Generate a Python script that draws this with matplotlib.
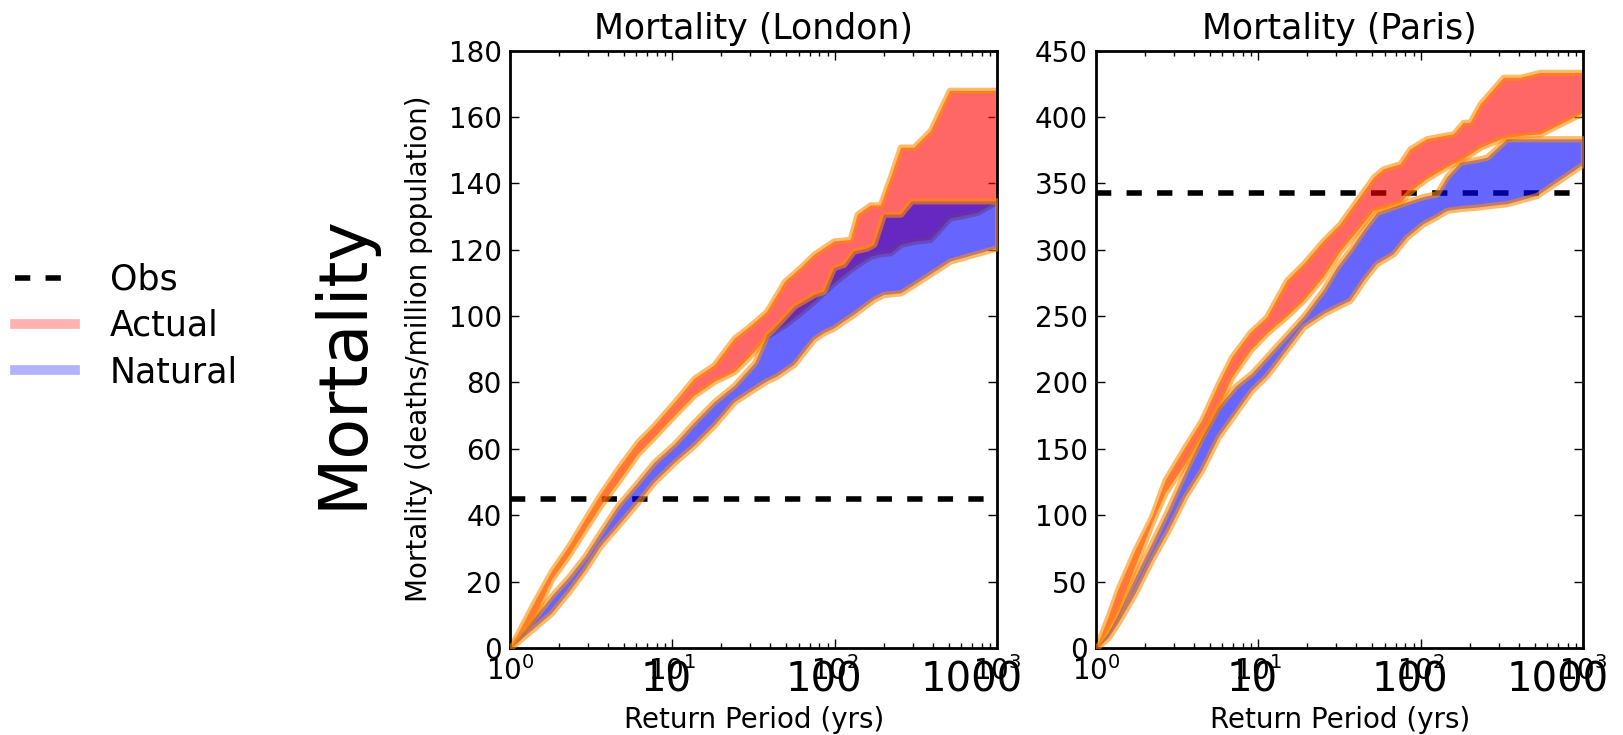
import numpy as np
import matplotlib
matplotlib.use("Agg")
import matplotlib.pyplot as plt
from matplotlib.lines import Line2D

plt.rcParams['font.family'] = ['DejaVu Sans']
plt.rcParams['font.size'] = 20
plt.rcParams['lines.scale_dashes'] = False

# London - return period (yrs) and mortality bands
lon_act_rp = [1, 1.4, 1.8, 2.3, 2.9, 3.6, 4.6, 6.1, 7.7, 10.3, 13.6, 18, 24, 29, 33, 38, 49, 61,
              74, 98, 124, 137, 165, 190, 219, 253, 305, 386, 506, 745, 1000]
lon_act_hi = [0, 13.6, 23.2, 30.8, 38.9, 46.4, 54.0, 62.1, 67.1, 74.2, 81.3, 85.3, 93.4, 96.5, 98.8,
              101.5, 110.5, 114.6, 118.6, 122.6, 123.1, 130.7, 133.5, 133.5, 141.8, 150.9, 150.9,
              155.9, 168, 168, 168]
lon_act_lo = [0, 9, 20.7, 28, 35.8, 42.9, 50.0, 58.5, 63.6, 70.2, 76.2, 80.3, 83.3, 87.3, 90.3, 94,
              97.4, 101, 104.5, 110, 114, 115.5, 118, 118.8, 119.1, 121.6, 122.5, 123.1, 129.5,
              131.2, 134.7]

lon_nat_rp = [1, 1.4, 1.8, 2.3, 2.9, 3.6, 4.6, 6.1, 7.7, 10.3, 13.6, 18, 24, 32, 38, 44, 56, 74,
              85, 98, 113, 130, 157, 173, 199, 253, 295, 512, 1000]
lon_nat_hi = [0, 9, 15.7, 21.5, 27.8, 35, 42.9, 50, 56, 61.6, 68.1, 74.2, 79.2, 86, 94.4, 97.4,
              103, 106.5, 107.5, 114.6, 115.6, 119.6, 120.5, 121.6, 130.7, 130.7, 134.7, 134.7,
              134.7]
lon_nat_lo = [0, 6, 10.6, 17, 23.7, 30.8, 36.8, 43.9, 50.0, 56.0, 61.1, 67.1, 74.2, 78.2, 80.5, 82,
              85.5, 93, 95, 96.4, 98.5, 100.5, 103.5, 105, 106.5, 107, 109, 116.6, 120.6]

# Paris
par_act_rp = [1, 1.19, 1.36, 1.74, 2.2, 2.66, 3.53, 4.47, 5.66, 6.84, 8.9, 11.2, 14.9, 18.9, 25.1,
              31.7, 40.2, 50.9, 58.6, 74.3, 85.5, 108, 131, 158, 182, 200, 231, 321, 406, 540, 1000]
par_act_hi = [0, 24, 44, 74, 99, 126.5, 151.6, 171.7, 199.2, 219.3, 238, 249.3, 276.9, 289.5, 307,
              319.5, 337, 354.6, 360.9, 364.7, 375.9, 383.5, 385.5, 387.2, 395.9, 395.9, 409.8,
              429.8, 429.8, 433.5, 433.5]
par_act_lo = [0, 14, 28, 62, 94, 117, 139, 160, 181.7, 204, 224.3, 237, 250, 262, 280, 299, 314,
              329.6, 331.5, 335.5, 344, 353.5, 359.6, 365, 368.5, 372, 377.1, 384.2, 386, 387.2,
              403.5]

par_nat_rp = [1, 1.19, 1.36, 1.74, 2.2, 2.79, 3.53, 4.47, 5.66, 7.17, 9.08, 11.2, 14.9, 18.9, 25.1,
              30.3, 36.6, 44.2, 53.3, 67.6, 81.7, 103, 125, 144, 174, 220, 254, 336, 515, 1000]
par_nat_hi = [0, 12, 25, 53.8, 78.9, 105, 133, 159, 181.7, 197, 207, 219.3, 236, 250, 270, 286.9,
              300, 315, 328, 332.5, 336, 340, 342.1, 355, 365.9, 368, 369.6, 383.5, 383.5, 383.5]
par_nat_lo = [0, 8, 18.8, 41.4, 66.4, 89, 114, 134, 159.1, 176.7, 194.2, 205, 225, 241.8, 251.9,
              257, 261.9, 276.9, 289.5, 297, 309.5, 319.5, 325, 329.6, 331, 332, 333, 334.6, 340.8,
              364.7]

obs_london = 45
obs_paris = 343

big_tick_pos = [9.1, 85, 690]
big_tick_txt = ['10', '100', '1000']

fig = plt.figure(figsize=(16.24, 7.35), dpi=100)
ax1 = fig.add_axes([510 / 1624, 87 / 735, 487.5 / 1624, 597.5 / 735])
ax2 = fig.add_axes([1096 / 1624, 87 / 735, 487.5 / 1624, 597.5 / 735])

panels = [
    (ax1, 'Mortality (London)', obs_london, 180, 20,
     (lon_act_rp, lon_act_lo, lon_act_hi), (lon_nat_rp, lon_nat_lo, lon_nat_hi)),
    (ax2, 'Mortality (Paris)', obs_paris, 450, 50,
     (par_act_rp, par_act_lo, par_act_hi), (par_nat_rp, par_nat_lo, par_nat_hi)),
]

for ax, title, obs, ymax, ystep, act, nat in panels:
    ax.axhline(obs, color='black', lw=4, dashes=(11, 11), zorder=1)
    ax.fill_between(act[0], act[1], act[2], facecolor='red', edgecolor='darkorange',
                    alpha=0.6, lw=4.5, zorder=2)
    ax.fill_between(nat[0], nat[1], nat[2], facecolor='blue', edgecolor='darkorange',
                    alpha=0.6, lw=4.5, zorder=3)
    ax.set_xscale('log')
    ax.set_xlim(1, 1000)
    ax.set_ylim(0, ymax)
    ax.set_yticks(np.arange(0, ymax + 1, ystep))
    ax.set_title(title, fontsize=25, pad=8)
    ax.set_xlabel('Return Period (yrs)', fontsize=20)
    ax.xaxis.set_label_coords(0.5, -0.097)
    ax.tick_params(which='both', direction='in', top=True, right=True, labelsize=20, pad=6)
    ax.tick_params(which='major', length=6.7, width=1)
    ax.tick_params(which='minor', length=3.6, width=1)
    for s in ax.spines.values():
        s.set_linewidth(2)
    for p, t in zip(big_tick_pos, big_tick_txt):
        ax.text(p, -0.021, t, transform=ax.get_xaxis_transform(), ha='center', va='top',
                fontsize=29)

ax1.set_ylabel('Mortality (deaths/million population)', fontsize=20)
ax1.yaxis.set_label_coords(-0.157, 0.5)

fig.text(343 / 1624, 1 - 362 / 735, 'Mortality', rotation=90, fontsize=48,
         ha='center', va='center')

handles = [
    Line2D([], [], color='black', lw=4, dashes=(11, 11)),
    Line2D([], [], color='red', alpha=0.3, lw=7),
    Line2D([], [], color='blue', alpha=0.3, lw=7),
]
fig.legend(handles, ['Obs', 'Actual', 'Natural'], loc='center left',
           bbox_to_anchor=(15 / 1624, 1 - 326 / 735), frameon=False, fontsize=25,
           borderpad=0, borderaxespad=0, handlelength=1.73, handletextpad=1.0,
           labelspacing=0.35)

fig.savefig('out.png', dpi=100)
